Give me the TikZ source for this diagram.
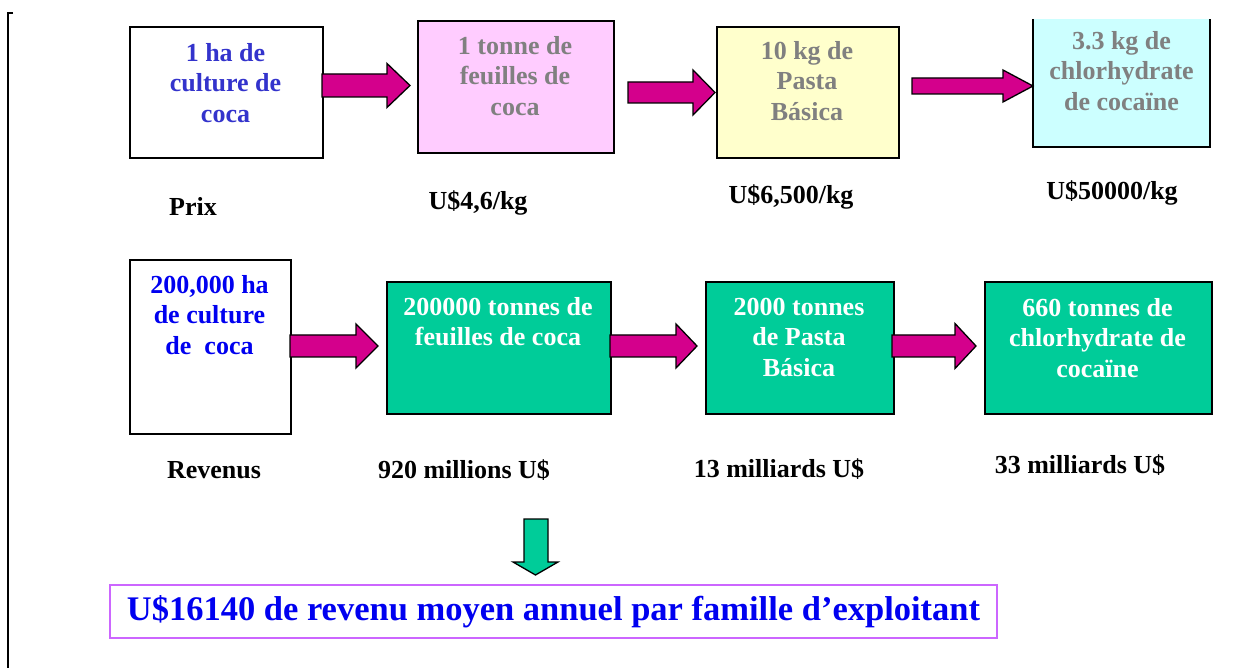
\documentclass[tikz,border=0pt]{standalone}
\usepackage{fontspec}
\setmainfont{Liberation Serif}
\definecolor{arrmag}{RGB}{212,0,140}
\definecolor{greenbox}{RGB}{0,204,153}
\definecolor{pinkbox}{RGB}{255,204,255}
\definecolor{yellowbox}{RGB}{255,255,204}
\definecolor{cyanbox}{RGB}{204,255,255}
\definecolor{slateblue}{RGB}{51,51,204}
\definecolor{greytext}{RGB}{128,128,128}
\definecolor{bluetext}{RGB}{0,0,240}
\definecolor{violetline}{RGB}{204,102,255}
\newcommand\fatarr[7]{% name, x1, x2, yc, shaft half, head half, head start
  \draw[fatarrow] (#2,#4-#5) coordinate (#1s) -- (#7,#4-#5) -- (#7,#4-#6) -- (#3,#4) coordinate (#1t) -- (#7,#4+#6) -- (#7,#4+#5) -- (#2,#4+#5) -- cycle;}
\begin{document}
\begin{tikzpicture}[x=1pt,y=-1pt,
  box/.style={draw=black, line width=1.8pt, anchor=north west, inner sep=0pt},
  boxtext/.style={anchor=north, align=center, inner sep=0pt, font=\fontsize{26}{30.5}\selectfont\bfseries},
  lbl/.style={anchor=base, inner sep=0pt, font=\fontsize{26}{30.5}\selectfont\bfseries},
  fatarrow/.style={fill=arrmag, draw=black, line width=1.3pt, line join=miter}]
\useasboundingbox (0,0) rectangle (1259,668);
\fill[white] (0,0) rectangle (1259,668);
% left bracket
\draw[line width=1.5pt] (13,13) -- (8,13) -- (8,670);
% row 1 boxes
\node[box, fill=white, minimum width=193pt, minimum height=131pt] (b1) at (129,26) {};
\node[box, fill=pinkbox, minimum width=196pt, minimum height=132pt] (b2) at (417,20) {};
\node[box, fill=yellowbox, minimum width=182pt, minimum height=131pt] (b3) at (716,26) {};
\fill[cyanbox] (1033,19) rectangle (1210,147);
\draw[line width=1.8pt] (1033,19) -- (1033,147) -- (1210,147) -- (1210,19);
\coordinate (b4) at (1121.5,83);
% row 1 texts
\node[boxtext, text=slateblue] (t1) at (225.5,43) {1 ha de\\culture de\\coca};
\node[boxtext, text=greytext] (t2) at (515,36) {1 tonne de\\feuilles de\\coca};
\node[boxtext, text=greytext] (t3) at (807,41) {10 kg de\\Pasta\\Básica};
\node[boxtext, text=greytext] (t4) at (1121.5,31) {3.3 kg de\\chlorhydrate\\de cocaïne};
% row 1 arrows
\fatarr{a1}{322}{410}{85.5}{11.5}{22}{387}
\fatarr{a2}{628}{715}{92.5}{10.5}{22.5}{693}
\fatarr{a3}{912}{1033}{86}{8}{16}{1003}
% row 1 labels
\node[lbl] (p0) at (193,216) {Prix};
\node[lbl] (p1) at (478,210) {U\$4,6/kg};
\node[lbl] (p2) at (791,204) {U\$6,500/kg};
\node[lbl] (p3) at (1112,200) {U\$50000/kg};
% row 2 boxes
\node[box, fill=white, minimum width=161pt, minimum height=174pt] (c1) at (129,259) {};
\node[box, fill=greenbox, minimum width=224pt, minimum height=132pt] (c2) at (386,281) {};
\node[box, fill=greenbox, minimum width=188pt, minimum height=132pt] (c3) at (705,281) {};
\node[box, fill=greenbox, minimum width=227pt, minimum height=132pt] (c4) at (984,281) {};
% row 2 texts
\node[boxtext, text=bluetext] (u1) at (209.5,275) {200,000 ha\\de culture\\de\ \ coca};
\node[boxtext, text=white] (u2) at (498,297) {200000 tonnes de\\feuilles de coca};
\node[boxtext, text=white] (u3) at (799,298) {2000 tonnes\\de Pasta\\Básica};
\node[boxtext, text=white] (u4) at (1097.5,298) {660 tonnes de\\chlorhydrate de\\cocaïne};
% row 2 arrows
\fatarr{a4}{290}{378}{346}{11}{22}{356}
\fatarr{a5}{610}{697}{346}{11}{22}{676}
\fatarr{a6}{892}{976}{346}{11}{22.5}{955}
% row 2 labels
\node[lbl] (r0) at (214,478) {Revenus};
\node[lbl] (r1) at (464,478) {920 millions U\$};
\node[lbl] (r2) at (779,477) {13 milliards U\$};
\node[lbl] (r3) at (1080,473) {33 milliards U\$};
% down arrow
\draw[fill=greenbox, draw=black, line width=1.3pt, line join=miter]
  (524,519) -- (548,519) -- (548,562) -- (558,562) -- (535.5,575) coordinate (dtip) -- (513,562) -- (524,562) -- cycle;
% result box
\node[draw=violetline, line width=2pt, fill=white, minimum width=887pt, minimum height=53pt, inner sep=0pt,
  text=bluetext, font=\fontsize{34.5}{40}\selectfont\bfseries] (res) at (553.5,611.5)
  {U\$16140 de revenu moyen annuel par famille d’exploitant};
\end{tikzpicture}
\end{document}
